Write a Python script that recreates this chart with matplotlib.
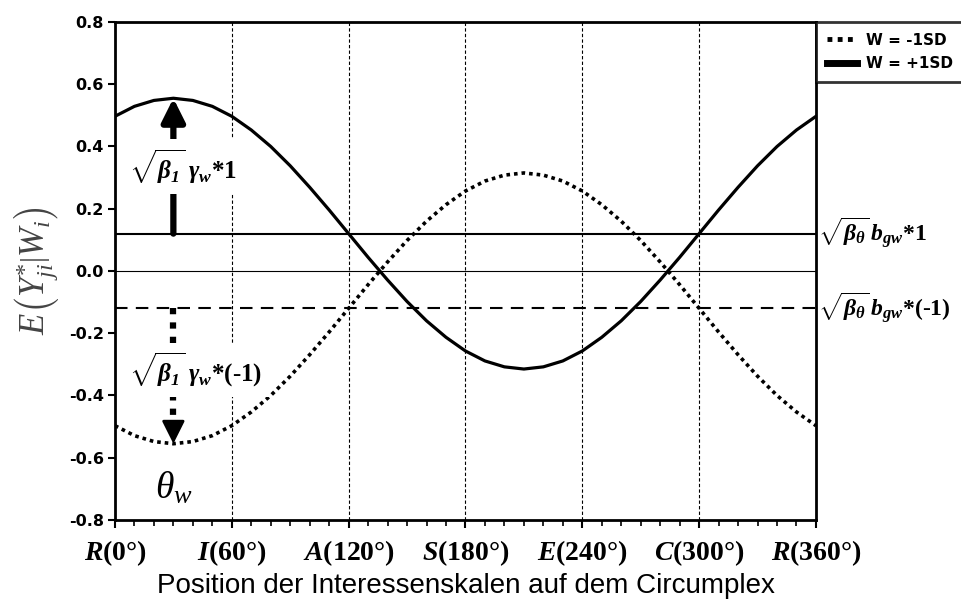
import numpy as np
import matplotlib
matplotlib.use("Agg")
import matplotlib.pyplot as plt

plt.rcParams['mathtext.fontset'] = 'custom'
plt.rcParams['mathtext.rm'] = 'Liberation Serif'
plt.rcParams['mathtext.it'] = 'Liberation Serif:italic'
plt.rcParams['mathtext.bf'] = 'Liberation Serif:bold:italic'
plt.rcParams['mathtext.sf'] = 'Liberation Serif:bold'

# angle on the circumplex (degrees)
theta = [0, 10, 20, 30, 40, 50, 60, 70, 80, 90, 100, 110, 120, 130, 140, 150, 160, 170, 180,
         190, 200, 210, 220, 230, 240, 250, 260, 270, 280, 290, 300, 310, 320, 330, 340, 350, 360]

# W = +1SD (solid)
w_plus = [0.497, 0.529, 0.548, 0.555, 0.548, 0.529, 0.497, 0.453, 0.400, 0.338, 0.269, 0.196,
          0.120, 0.044, -0.029, -0.098, -0.160, -0.213, -0.257, -0.289, -0.308, -0.315, -0.308,
          -0.289, -0.257, -0.213, -0.160, -0.098, -0.029, 0.044, 0.120, 0.196, 0.269, 0.338,
          0.400, 0.453, 0.497]

# W = -1SD (dotted)
w_minus = [-0.497, -0.529, -0.548, -0.555, -0.548, -0.529, -0.497, -0.453, -0.400, -0.338, -0.269,
           -0.196, -0.120, -0.044, 0.029, 0.098, 0.160, 0.213, 0.257, 0.289, 0.308, 0.315, 0.308,
           0.289, 0.257, 0.213, 0.160, 0.098, 0.029, -0.044, -0.120, -0.196, -0.269, -0.338,
           -0.400, -0.453, -0.497]

level_plus = 0.12     # sqrt(beta0) b_gw * 1
level_minus = -0.12   # sqrt(beta0) b_gw * (-1)

xtick_pos = [0, 60, 120, 180, 240, 300, 360]
xtick_labels = [r'$\mathbf{R}$(0°)', r'$\mathbf{I}$(60°)', r'$\mathbf{A}$(120°)', r'$\mathbf{S}$(180°)',
                r'$\mathbf{E}$(240°)', r'$\mathbf{C}$(300°)', r'$\mathbf{R}$(360°)']
ytick_pos = [-0.8, -0.6, -0.4, -0.2, 0.0, 0.2, 0.4, 0.6, 0.8]
ytick_labels = ['-0.8', '-0.6', '-0.4', '-0.2', '0.0', '0.2', '0.4', '0.6', '0.8']

fig = plt.figure(figsize=(9.62, 6.01), dpi=100)
ax = fig.add_axes([0.1195, 0.1348, 0.7287, 0.8286])

# vertical dotted grid at the scale positions
for xp in xtick_pos[1:-1]:
    ax.axvline(xp, color='k', lw=0.8, ls=(0, (3, 2)), zorder=1)

ax.axhline(0, color='k', lw=0.8, zorder=1)
ax.axhline(level_plus, color='k', lw=1.5, zorder=1)
ax.axhline(level_minus, color='k', lw=1.5, ls=(0, (6, 4)), zorder=1)

ln_minus, = ax.plot(theta, w_minus, color='k', lw=2.6, ls=(0, (1, 1.1)), label='W = -1SD', zorder=3)
ln_plus, = ax.plot(theta, w_plus, color='k', lw=2.3, label='W = +1SD', zorder=3)

# arrows from the offset level up/down to the peak
i_pk = int(np.argmax(w_plus))
pk_x = theta[i_pk]
ax.annotate('', xy=(pk_x, w_plus[i_pk]), xytext=(pk_x, level_plus),
            arrowprops=dict(arrowstyle='-|>,head_length=0.7,head_width=0.35', lw=4.5, color='k',
                            shrinkA=0, shrinkB=0, mutation_scale=20), zorder=4)

i_min = int(np.argmin(w_minus))
ax.plot([pk_x, pk_x], [level_minus, w_minus[i_min] + 0.05], color='k', lw=4.5,
        ls=(0, (1, 1.3)), zorder=4)
ax.annotate('', xy=(pk_x, w_minus[i_min]), xytext=(pk_x, w_minus[i_min] + 0.06),
            arrowprops=dict(arrowstyle='-|>,head_length=0.7,head_width=0.35', lw=2, color='k',
                            shrinkA=0, shrinkB=0, mutation_scale=20), zorder=4)

ax.text(7, 0.335, r'$\sqrt{\mathbf{\beta_{1}}}\;\mathbf{\gamma_w}$$\mathsf{*1}$', fontsize=18,
        ha='left', va='center', zorder=5,
        bbox=dict(facecolor='white', edgecolor='none', pad=6))
ax.text(7, -0.318, r'$\sqrt{\mathbf{\beta_{1}}}\;\mathbf{\gamma_w}$$\mathsf{*(\text{-}1)}$', fontsize=18,
        ha='left', va='center', zorder=5,
        bbox=dict(facecolor='white', edgecolor='none', pad=6))
ax.text(pk_x, -0.70, r'$\theta_w$', fontsize=27, ha='center', va='center', zorder=5)

ax.text(360.8, level_plus, r'$\sqrt{\mathbf{\beta_{\theta}}}\,\mathbf{b_{gw}}$$\mathsf{*1}$', fontsize=17,
        ha='left', va='center', clip_on=False)
ax.text(360.8, level_minus, r'$\sqrt{\mathbf{\beta_{\theta}}}\,\mathbf{b_{gw}}$$\mathsf{*(\text{-}1)}$', fontsize=17,
        ha='left', va='center', clip_on=False)

ax.set_xlim(0, 360)
ax.set_ylim(-0.8, 0.8)
ax.set_xticks(xtick_pos)
ax.set_xticklabels(xtick_labels, fontfamily='Liberation Serif', fontweight='bold', fontsize=20)
ax.set_xticks(np.arange(0, 361, 10), minor=True)
ax.set_yticks(ytick_pos)
ax.set_yticklabels(ytick_labels, fontfamily='DejaVu Sans', fontweight='bold', fontsize=11.5)
ax.tick_params(axis='x', which='major', direction='out', length=6, width=1.5, pad=7)
ax.tick_params(axis='x', which='minor', direction='out', length=4, width=1.2)
ax.tick_params(axis='y', which='major', direction='out', length=5, width=1.5, pad=3)
for sp in ax.spines.values():
    sp.set_linewidth(2)

ax.set_xlabel('Position der Interessenskalen auf dem Circumplex', fontfamily='Liberation Sans',
              fontsize=20, labelpad=4)
ax.set_ylabel(r'$E\left(Y^{*}_{ji}\left|W_{i}\right.\right)$', fontsize=25, color='#444444', labelpad=6)

leg = ax.legend(handles=[ln_minus, ln_plus], loc='upper left', bbox_to_anchor=(1.0, 1.0),
                borderaxespad=0, frameon=True, fancybox=False, edgecolor='k',
                prop={'family': 'DejaVu Sans', 'weight': 'bold', 'size': 11},
                handlelength=2.0, handletextpad=0.6, borderpad=0.7, labelspacing=0.55)
leg.get_frame().set_linewidth(2)
leg.get_lines()[0].set_linewidth(3.5)
leg.get_lines()[1].set_linewidth(5)

fig.savefig('out.png', dpi=100)
